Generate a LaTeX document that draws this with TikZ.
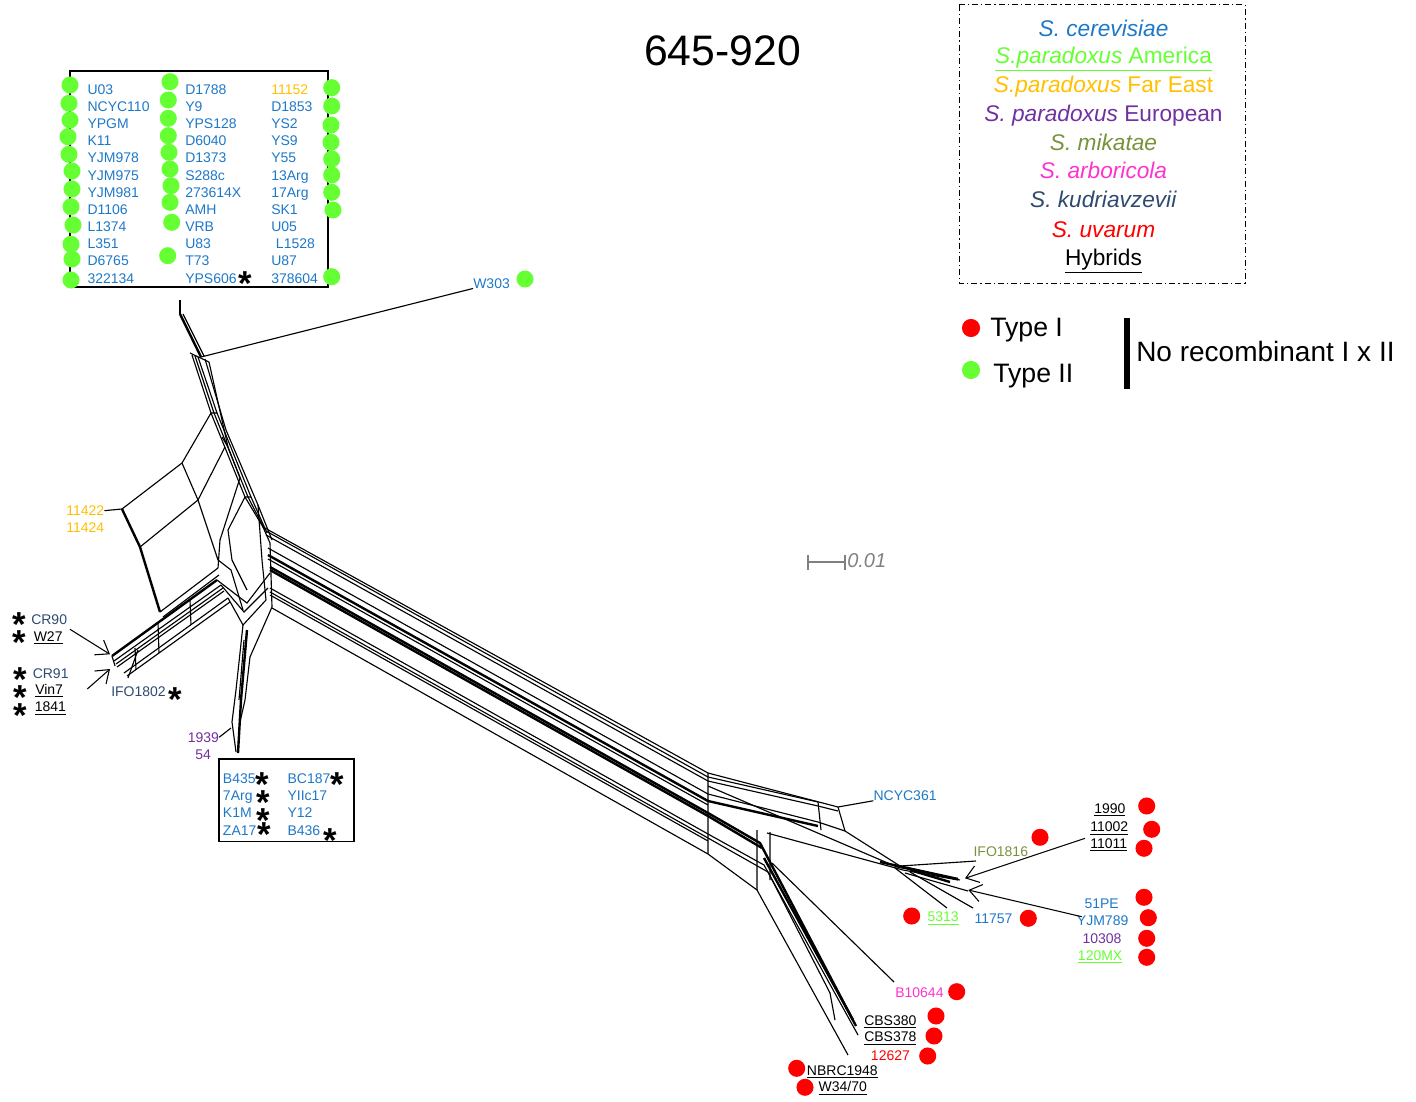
\documentclass[tikz,border=0pt]{standalone}
\usepackage{fontspec}
\setmainfont{Liberation Sans}
\usepackage{xcolor}
\usepackage{tikz}
\usetikzlibrary{arrows.meta}
\definecolor{sCere}{HTML}{1E78C8}
\definecolor{sParAm}{HTML}{66FF33}
\definecolor{sParFE}{HTML}{FFC000}
\definecolor{sParEu}{HTML}{7030A0}
\definecolor{sMik}{HTML}{77933C}
\definecolor{sArb}{HTML}{FF33CC}
\definecolor{sKud}{HTML}{2E4A70}
\definecolor{sUva}{HTML}{FF0000}
\definecolor{mGray}{HTML}{808080}

\begin{document}
\begin{tikzpicture}[x=0.75pt, y=-0.75pt,
  lbl/.style={font=\fontsize{10.5}{12}\selectfont, inner sep=0pt, anchor=base west, yshift=-3.8pt},
  leg/.style={font=\fontsize{17}{20}\selectfont, inner sep=0pt, anchor=base, yshift=-6.1pt},
  ast/.style={font=\fontsize{26}{26}\bfseries\selectfont, inner sep=0pt, anchor=base, yshift=-14.5pt},
  net/.style={line width=0.85pt},
  netk/.style={line width=1.8pt},
  arw/.style={-{Straight Barb[length=9pt,width=13pt]}, line width=0.8pt}]
\useasboundingbox (0,0) rectangle (1416,1102);

% title and legends
\node[font=\fontsize{32}{36}\selectfont, inner sep=0pt, anchor=base, yshift=-11.5pt] (title) at (722.5,50) {645-920};
\draw[line width=0.75pt, dash pattern=on 4.5pt off 2.2pt on 1pt off 2.2pt] (959,5) rectangle (1245,283);
\node[leg, text=sCere] (lgA) at (1103.5,28) {\textit{S. cerevisiae}};
\node[leg, text=sParAm] (lgB) at (1103.5,55.8) {\underline{\textit{S.paradoxus} America}};
\node[leg, text=sParFE] (lgC) at (1103.5,84.8) {\textit{S.paradoxus} Far East};
\node[leg, text=sParEu] (lgD) at (1103.5,113.3) {\textit{S. paradoxus} European};
\node[leg, text=sMik] (lgE) at (1103.5,142.2) {\textit{S. mikatae}};
\node[leg, text=sArb] (lgF) at (1103.5,170.8) {\textit{S. arboricola}};
\node[leg, text=sKud] (lgG) at (1103.5,199.2) {\textit{S. kudriavzevii}};
\node[leg, text=sUva] (lgH) at (1103.5,229.2) {\textit{S. uvarum}};
\node[leg] (lgI) at (1103.5,257.2) {\underline{Hybrids}};
\fill[sUva] (971,328) circle (6.8pt);
\fill[sParAm] (971,370) circle (6.8pt);
\node[font=\fontsize{20}{24}\selectfont, inner sep=0pt, anchor=base west] (typeI) at (990,336) {Type I};
\node[font=\fontsize{20}{24}\selectfont, inner sep=0pt, anchor=base west] (typeII) at (993,382) {Type II};
\draw[line width=4.5pt] (1127,318) -- (1127,389);
\node[font=\fontsize{21}{24}\selectfont, inner sep=0pt, anchor=base west] (norec) at (1136,361) {No recombinant I x II};
% scale bar
\draw[mGray, line width=1pt] (808,562) -- (845,562) (808,555) -- (808,570) (845,555) -- (845,570);
\node[font=\fontsize{15}{16}\itshape\selectfont, text=mGray, inner sep=0pt, anchor=base west] (scl) at (847,567) {0.01};

% boxed strain lists
\draw[line width=1pt] (70,71) rectangle (328,287);
\foreach \t [count=\i] in {U03,NCYC110,YPGM,K11,YJM978,YJM975,YJM981,D1106,L1374,L351,D6765,322134}
  \node[lbl, text=sCere] (ca\i) at (87.3,{72.15+17.15*\i}) {\t};
\foreach \t [count=\i] in {D1788,Y9,YPS128,D6040,D1373,S288c,273614X,AMH,VRB,U83,T73,YPS606}
  \node[lbl, text=sCere] (cb\i) at (185,{72.15+17.15*\i}) {\t};
\foreach \t/\x/\c [count=\i] in {11152/271/sParFE,D1853/271/sCere,YS2/271/sCere,YS9/271/sCere,Y55/271/sCere,13Arg/271/sCere,17Arg/271/sCere,SK1/271/sCere,U05/271/sCere,L1528/275.7/sCere,U87/271/sCere,378604/271/sCere}
  \node[lbl, text=\c] (cc\i) at (\x,{72.15+17.15*\i}) {\t};
\draw[line width=1pt] (219,759) rectangle (354,841.5);
\node[lbl, text=sCere] (b435) at (222.7,778) {B435};
\node[lbl, text=sCere] (a7arg) at (222.7,795.5) {7Arg};
\node[lbl, text=sCere] (k1m) at (222.7,812) {K1M};
\node[lbl, text=sCere] (za17) at (222.7,830) {ZA17};
\node[lbl, text=sCere] (bc187) at (287.3,778) {BC187};
\node[lbl, text=sCere] (yiic17) at (287.3,795.5) {YIIc17};
\node[lbl, text=sCere] (y12) at (287.3,812) {Y12};
\node[lbl, text=sCere] (b436) at (287.3,830) {B436};

% strain labels
\node[lbl, text=sCere] (w303) at (473,283) {W303};
\node[lbl, text=sParFE] (n11422) at (66,510.5) {11422};
\node[lbl, text=sParFE] (n11424) at (66,527.3) {11424};
\node[lbl, text=sKud] (cr90) at (31,619) {CR90};
\node[lbl] (w27) at (33.5,636.7) {\underline{W27}};
\node[lbl, text=sKud] (cr91) at (32.5,673) {CR91};
\node[lbl] (vin7) at (35,689.5) {\underline{Vin7}};
\node[lbl] (n1841) at (34.5,706.7) {\underline{1841}};
\node[lbl, text=sKud] (ifo1802) at (111,691) {IFO1802};
\node[lbl, text=sParEu] (n1939) at (187.5,737) {1939};
\node[lbl, text=sParEu] (n54) at (195,754) {54};
\node[lbl, text=sCere] (ncyc361) at (873.3,795.3) {NCYC361};
\node[lbl, text=sMik] (ifo1816) at (973.3,851) {IFO1816};
\node[lbl] (n1990) at (1094,808.3) {\underline{1990}};
\node[lbl] (n11002) at (1090,826.7) {\underline{11002}};
\node[lbl] (n11011) at (1090,843.3) {\underline{11011}};
\node[lbl, text=sCere] (pe51) at (1084.3,903.3) {51PE};
\node[lbl, text=sCere] (yjm789) at (1076.7,920.5) {YJM789};
\node[lbl, text=sParEu] (n10308) at (1082.3,938) {10308};
\node[lbl, text=sParAm] (mx120) at (1077.7,955) {\underline{120MX}};
\node[lbl, text=sParAm] (n5313) at (927.3,916.7) {\underline{5313}};
\node[lbl, text=sCere] (n11757) at (974.3,918.7) {11757};
\node[lbl, text=sArb] (b10644) at (895,992.5) {B10644};
\node[lbl] (cbs380) at (864,1020) {\underline{CBS380}};
\node[lbl] (cbs378) at (864,1036.7) {\underline{CBS378}};
\node[lbl, text=sUva] (n12627) at (870.7,1055) {12627};
\node[lbl] (nbrc1948) at (806.7,1070) {\underline{NBRC1948}};
\node[lbl] (w3470) at (818.3,1086.7) {\underline{W34/70}};

% asterisks
\foreach \p [count=\i] in {(245,275.7),(19.3,616.7),(19.3,635),(20,671.7),(20,690),(20.7,708.3),(175,691.7),(262.7,777.3),(263.3,795),(263.3,812.7),(264.3,827.3),(337.7,777.3),(330.7,833)}
  \node[ast] (ast\i) at \p {*};

% type dots
\foreach \p in {(70,85),(69,103.3),(70,120),(68,136.7),(69,154.3),(72,171),(72,189),(71,206.7),(73,225),(71,244.3),(72,259),(71,280),
  (170,81.7),(168.3,100),(168.3,118.3),(168.3,135.7),(169,152.3),(170,169),(171,185.7),(170,202.3),(171.7,222.3),(167.7,255.7),
  (331.7,87.7),(331.7,106),(331,125),(331,142.3),(331.7,159),(331.7,175),(331.7,192.3),(333,210),(331.7,276.7),(525,279)}
  \fill[sParAm] \p circle (6.4pt);
\foreach \p in {(1040,837.3),(1146.7,806),(1151.7,829.3),(1144,848.3),(1144,897.3),(1148.3,917.7),(1146.7,938.3),(1146.7,957.3),
  (911.7,916),(1028.3,918.3),(956.7,991.7),(936,1016),(934,1036),(927.7,1056),(796.7,1068.3),(805,1087.3)}
  \fill[sUva] \p circle (6.4pt);

% network: stem and W303
\draw[net] (180,300) -- (180,314);
\draw[netk] (180,314) -- (201,357);
\draw[net] (183,314) -- (204,356);
\draw[net] (201,357) -- (w303.south west);
\draw[net] (192,355) -- (211,413) -- (245,497) -- (263,527);
\draw[net] (195,356) -- (214,413) -- (248,497) -- (265,530);
\draw[net] (198,357) -- (217,413) -- (251,497) -- (267,533);
\draw[net] (205,359) -- (226,430) -- (258,505) -- (272,540);
\draw[net] (209,362) -- (228,447) -- (240,478);
\draw[net] (190,353) -- (209,362);
\draw[net] (211,413) -- (217,413) (222,437) -- (228,447) (245,497) -- (251,497);
% network: 11422 grid
\draw[net] (n11422.east) -- (122,509);
\draw[net] (122,509) -- (182,463) -- (211,413);
\draw[net] (140,547) -- (198,500) -- (225,447);
\draw[netk] (122,509) -- (140,547) -- (160,612);
\draw[net] (182,463) -- (198,500) -- (218,560);
\draw[net] (160,612) -- (218,568);
\draw[net] (163,617) -- (219,575);
% network: CR arm and hub
\draw[netk] (112,656) -- (217,580);
\draw[net] (114,661) -- (221,585);
\draw[net] (116,664) -- (223,588);
\draw[net] (117,667) -- (224,591);
\draw[net] (124,673) -- (228,598);
\draw[net] (127,676) -- (230,602);
\draw[net] (128,678) -- (138,650);
\draw[net] (135,648) -- (136,670) (158,622) -- (159,653) (112,656) -- (115,666) (190,600) -- (191,625);
\draw[net] (217,580) -- (247,603) -- (270,573);
\draw[net] (221,585) -- (244,612) -- (268,588);
\draw[net] (228,598) -- (243,625) -- (266,600);
\draw[net] (218,560) -- (231,570) -- (243,610);
\draw[net] (240,478) -- (220,540) -- (218,568);
\draw[net] (245,497) -- (228,530) -- (232,560) -- (247,590);
\draw[net] (263,527) -- (270,543) -- (272,607) -- (250,657);
\draw[net] (258,505) -- (262,560) -- (266,600);
% network: 1939 arm
\draw[net] (243,625) -- (236,690) -- (232,722) -- (236,752);
\draw[netk] (247,630) -- (241,700) -- (238,753);
\draw[net] (250,657) -- (245,700) -- (240,722);
\draw[net] (244,640) -- (239,700);
\draw[net] (n1939.east) -- (231,728);
% network: long bundle
\draw[net] (263,527) -- (708,773) -- (838,807) -- (ncyc361.south west);
\draw[net] (266,531) -- (708,777) -- (818,802);
\draw[net] (266,535) -- (708,781) -- (818,806) -- (838,811);
\draw[net] (268,548) -- (708,794) -- (818,822) -- (845,831) -- (900,866) -- (958,879);
\draw[netk] (268,555) -- (708,801) -- (818,826);
\draw[net] (268,559) -- (708,805);
\draw[netk] (270,567) -- (708,813) -- (760,843) -- (856,1026);
\draw[netk] (270,570) -- (708,816) -- (762,848);
\draw[net] (270,588) -- (708,834) -- (764,865) -- (858,1035);
\draw[net] (270,592) -- (708,838) -- (768,872) -- (830,993);
\draw[net] (270,595) -- (708,841);
\draw[net] (272,608) -- (708,854) -- (757,890) -- (848,1055);
\draw[net] (708,773) -- (708,854) (818,802) -- (821,830) (838,807) -- (845,831);
\draw[net] (757,830) -- (757,890) (770,832) -- (770,880) (830,993) -- (835,1020);
\draw[netk] (764,858) -- (853,1020);
% network: right cluster
\draw[net] (708,786) -- (897,867) -- (960,880);
\draw[net] (767,833) -- (903,870) -- (958,880);
\draw[netk] (880,862) -- (958,879);
\draw[netk] (910,870) -- (950,882);
\draw[net] (900,866) -- (976,861);
\draw[net] (905,873) -- (968,891);
\draw[net] (895,868) -- (947,908);
\draw[net] (910,872) -- (973,908);
\draw[net] (772,863) -- (894,982);

% arrows
\coordinate (arA) at (70,629.3); \coordinate (tipA) at (110,654.3);
\coordinate (arB) at (87.3,689); \coordinate (tipB) at (110,669);
\coordinate (arC) at (1085,838.3); \coordinate (tipC) at (965,878.3);
\coordinate (arD) at (1081.7,916.7); \coordinate (tipD) at (968.3,890);
\draw[arw] (arA) -- (tipA); \draw[arw] (arB) -- (tipB);
\draw[arw] (arC) -- (tipC); \draw[arw] (arD) -- (tipD);
\end{tikzpicture}
\end{document}
